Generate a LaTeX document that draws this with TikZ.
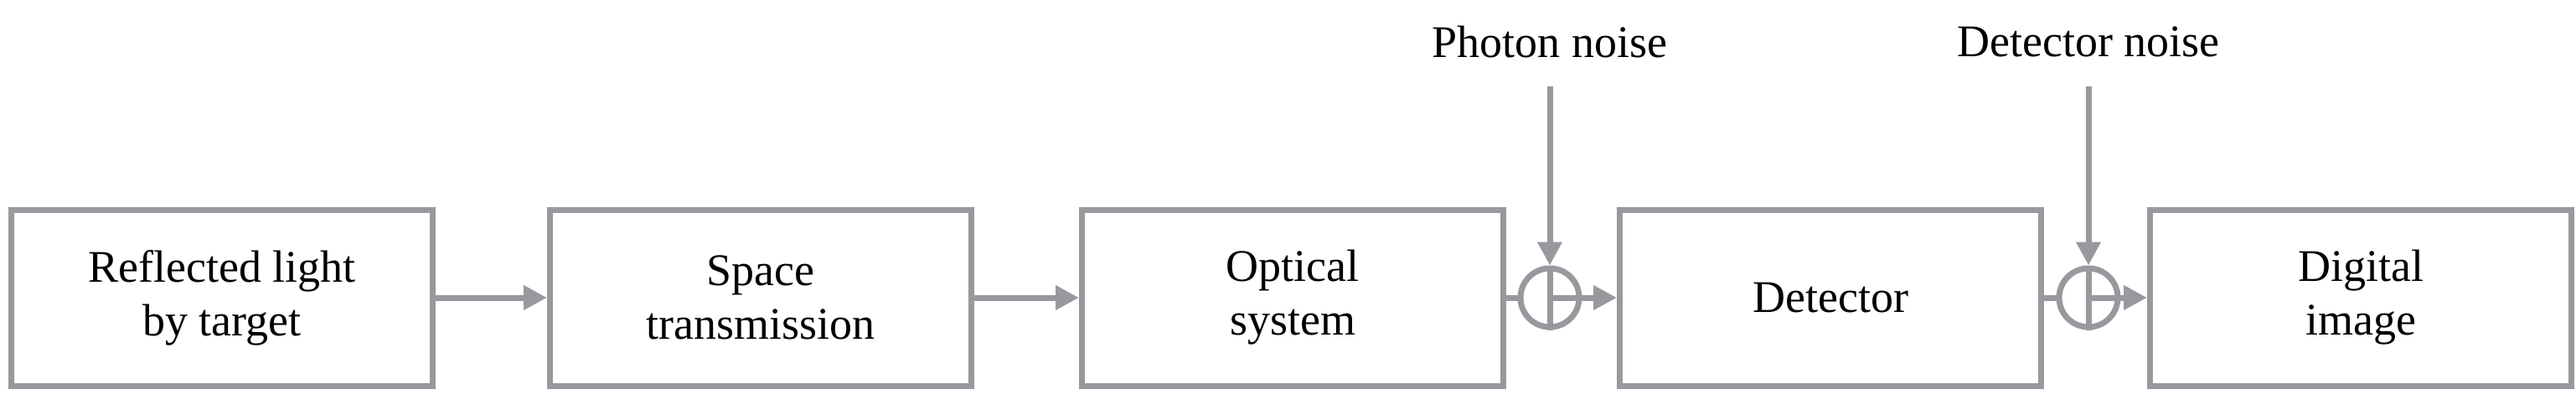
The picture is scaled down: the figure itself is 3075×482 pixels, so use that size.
\documentclass[tikz,border=0pt]{standalone}
\usepackage{fontspec}
\setmainfont{Liberation Serif}
\usetikzlibrary{arrows.meta}
\definecolor{lg}{RGB}{152,153,158}
\begin{document}
\begin{tikzpicture}[x=1pt,y=-1pt,
  blk/.style={draw=lg,line width=7pt,minimum width=503pt,minimum height=210pt,inner sep=0pt,align=center,font=\fontsize{54}{64}\selectfont},
  sumc/.style={draw=lg,line width=7pt,circle,minimum size=70pt,inner sep=0pt},
  lab/.style={font=\fontsize{54}{64}\selectfont,inner sep=0pt},
  arr/.style={draw=lg,line width=7pt,-{Triangle[length=28pt,width=28pt]}},
  ln/.style={draw=lg,line width=7pt}]
\useasboundingbox (0,0) rectangle (3075,482);
\node[blk] (b1) at (265,355) {Reflected light\\by target};
\node[blk] (b2) at (908,355) {Space\\transmission};
\node[blk] (b3) at (1543,355) {Optical\\system};
\node[blk] (b4) at (2185,355) {Detector};
\node[blk] (b5) at (2818,355) {Digital\\image};
\node[sumc] (s1) at (1850,355) {};
\node[sumc] (s2) at (2493,355) {};
\draw[ln] (s1.north) -- (s1.south);
\draw[ln] (s2.north) -- (s2.south);
\node[lab] (n1) at (1850,50) {Photon noise};
\node[lab] (n2) at (2493,50) {Detector noise};
\coordinate (t1) at (1850,103);
\coordinate (t2) at (2493,103);
\draw[arr] (b1) -- (b2);
\draw[arr] (b2) -- (b3);
\draw[ln] (b3.east) -- (s1.west);
\draw[arr] (s1.center) -- (b4.west);
\draw[ln] (b4.east) -- (s2.west);
\draw[arr] (s2.center) -- (b5.west);
\draw[arr] (t1) -- (s1.north);
\draw[arr] (t2) -- (s2.north);
\end{tikzpicture}
\end{document}
